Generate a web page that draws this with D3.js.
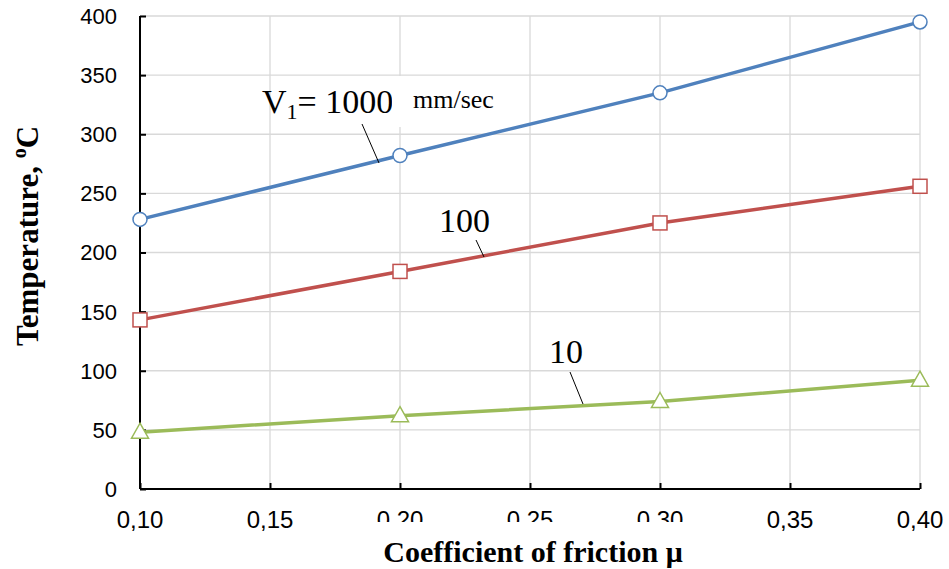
<!DOCTYPE html>
<html><head><meta charset="utf-8">
<script src="https://cdn.jsdelivr.net/npm/d3@7"></script>
<style>body{margin:0;background:#fff;} svg{display:block;}</style>
</head><body>
<svg id="c" width="949" height="569"></svg>
<script>
const mu = [0.10, 0.20, 0.30, 0.40];
const v1000 = [228, 282, 335, 395];
const v100 = [143, 184, 225, 256];
const v10 = [48, 62, 74, 92];
const xTicks = [0.10, 0.15, 0.20, 0.25, 0.30, 0.35, 0.40];
const yTicks = [0, 50, 100, 150, 200, 250, 300, 350, 400];
const series = [
  {name: "1000", values: v1000, color: "#4f81bd", marker: "circle"},
  {name: "100", values: v100, color: "#c0504d", marker: "square"},
  {name: "10", values: v10, color: "#9bbb59", marker: "triangle"}
];

const svg = d3.select("#c");
const x = d3.scaleLinear().domain([0.1, 0.4]).range([140, 920]);
const y = d3.scaleLinear().domain([0, 400]).range([489, 16]);
const fmt = d => d.toFixed(2).replace(".", ",");
const serif = "Liberation Serif, Times New Roman, serif";

// gridlines
svg.append("g").selectAll("line.h").data(yTicks.filter(d => d > 0)).join("line")
  .attr("x1", 140).attr("x2", 920).attr("y1", d => y(d)).attr("y2", d => y(d))
  .attr("stroke", "#d9d9d9").attr("stroke-width", 1.3);
svg.append("g").selectAll("line.v").data(xTicks.filter(d => d > 0.1)).join("line")
  .attr("x1", d => x(d)).attr("x2", d => x(d)).attr("y1", y(400)).attr("y2", y(0))
  .attr("stroke", "#d9d9d9").attr("stroke-width", 1.3);

// axes
const yAxis = svg.append("g").attr("transform", "translate(140,0)")
  .call(d3.axisRight(y).tickValues(yTicks).tickSize(6).tickFormat(""));
yAxis.select(".domain").attr("stroke", "#000").attr("stroke-width", 2).attr("d", `M0,${y(400)}V${y(0)}`);
yAxis.selectAll(".tick line").attr("stroke", "#000").attr("stroke-width", 2);
svg.append("g").selectAll("text").data(yTicks).join("text")
  .attr("x", 117).attr("y", d => y(d)).attr("dy", "0.36em").attr("text-anchor", "end")
  .attr("font-family", "Liberation Sans, Arial, sans-serif").attr("font-size", 22).attr("fill", "#000")
  .text(d => d);

const xAxis = svg.append("g").attr("transform", `translate(0,${y(0)})`)
  .call(d3.axisTop(x).tickValues(xTicks).tickSize(6).tickFormat(""));
xAxis.select(".domain").attr("stroke", "#000").attr("stroke-width", 2).attr("d", `M${x(0.1)},0H${x(0.4)}`);
xAxis.selectAll(".tick line").attr("stroke", "#000").attr("stroke-width", 2);
svg.append("g").selectAll("text").data(xTicks).join("text")
  .attr("x", d => x(d)).attr("y", 528).attr("text-anchor", "middle")
  .attr("font-family", "Liberation Sans, Arial, sans-serif").attr("font-size", 24).attr("fill", "#000")
  .text(fmt);

// white box that clips some tick labels (as in reference)
svg.append("rect").attr("x", 293).attr("y", 522).attr("width", 470).attr("height", 47).attr("fill", "#fff");

// V1 label, then white box of the units label, drawn beneath the lines
const t1 = svg.append("text").attr("x", 262).attr("y", 113).attr("font-family", serif).attr("font-size", 34).attr("fill", "#000");
t1.append("tspan").text("V");
t1.append("tspan").attr("font-size", 22).attr("dy", 6).text("1");
t1.append("tspan").attr("dy", -6).text("= 1000");
svg.append("rect").attr("x", 392).attr("y", 76).attr("width", 129).attr("height", 51).attr("fill", "#fff");
svg.append("text").attr("x", 413).attr("y", 108).attr("font-family", serif).attr("font-size", 26).attr("fill", "#000").text("mm/sec");

// lines
const line = d3.line().x((d, i) => x(mu[i])).y(d => y(d));
series.forEach(s => {
  svg.append("path").datum(s.values).attr("d", line).attr("fill", "none")
    .attr("stroke", s.color).attr("stroke-width", 3.5).attr("stroke-linecap", "round");
});
series.forEach(s => {
  const g = svg.append("g");
  s.values.forEach((v, i) => {
    const cx = x(mu[i]), cy = y(v);
    if (s.marker === "circle") {
      g.append("circle").attr("cx", cx).attr("cy", cy).attr("r", 7)
        .attr("fill", "#fff").attr("stroke", s.color).attr("stroke-width", 1.5);
    } else if (s.marker === "square") {
      g.append("rect").attr("x", cx - 7).attr("y", cy - 7).attr("width", 14).attr("height", 14)
        .attr("fill", "#fff").attr("stroke", s.color).attr("stroke-width", 1.5);
    } else {
      g.append("path").attr("d", `M${cx},${cy - 9}L${cx + 8.5},${cy + 6}L${cx - 8.5},${cy + 6}Z`)
        .attr("fill", "#fff").attr("stroke", s.color).attr("stroke-width", 1.5);
    }
  });
});

// annotations
const lead = (x1, y1, x2, y2) => svg.append("line").attr("x1", x1).attr("y1", y1).attr("x2", x2).attr("y2", y2)
  .attr("stroke", "#000").attr("stroke-width", 1);
lead(362, 124, 379, 163);
lead(476, 240, 484, 257);
lead(570, 372, 583, 404);

svg.append("text").attr("x", 439).attr("y", 232).attr("font-family", serif).attr("font-size", 34).attr("fill", "#000").text("100");
svg.append("text").attr("x", 549).attr("y", 363).attr("font-family", serif).attr("font-size", 34).attr("fill", "#000").text("10");

// axis titles
svg.append("text").attr("x", 533).attr("y", 562).attr("text-anchor", "middle")
  .attr("font-family", serif).attr("font-weight", "bold").attr("font-size", 30).attr("fill", "#000")
  .text("Coefficient of friction μ");
const yt = svg.append("text").attr("transform", "translate(38,236) rotate(-90)").attr("text-anchor", "middle")
  .attr("font-family", serif).attr("font-weight", "bold").attr("font-size", 31).attr("fill", "#000");
yt.append("tspan").text("Temperature, ");
yt.append("tspan").attr("font-size", 20).attr("dy", -12).text("o");
yt.append("tspan").attr("dy", 12).text("C");
</script>
</body></html>
